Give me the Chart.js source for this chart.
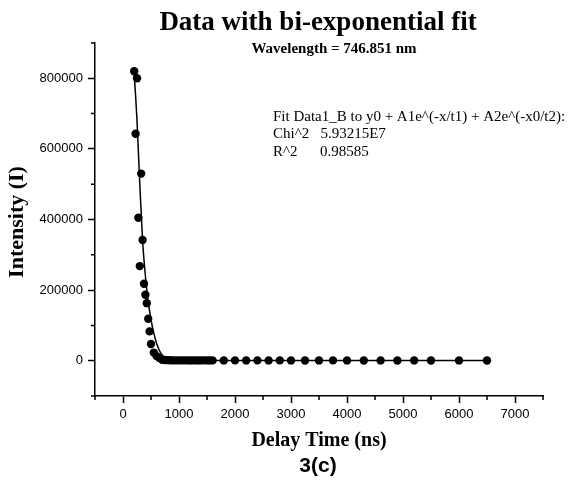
<!DOCTYPE html>
<html>
<head>
<meta charset="utf-8">
<script src="https://cdn.jsdelivr.net/npm/chart.js@4/dist/chart.umd.min.js"></script>
<style>
  html, body { margin: 0; padding: 0; background: #fff; }
  #wrap { width: 571px; height: 480px; position: relative; }
</style>
</head>
<body>
<div id="wrap"><canvas id="c" width="571" height="480"></canvas></div>
<script>
// ---- data ----
const DATA_X = [200,225,250,275,300,325,350,375,400,425,450,475,500,550,600,650,700,
  750,800,850,900,950,1000,1050,1100,1150,1200,1250,1300,1350,1400,1450,1500,1550,1600,
  1800,2000,2200,2400,2600,2800,3000,3250,3500,3750,4000,4300,4600,4900,5200,5500,6000,6500];
const DATA_Y = [820000,643000,800000,405000,268000,530000,342000,218000,187000,163000,119000,83000,47500,23000,13000,7700,2800,
  2000,1500,1200,1000,1000,900,1000,900,1000,800,900,1000,800,900,1000,900,800,900,
  800,900,800,900,800,900,800,700,800,900,800,700,800,700,800,700,800,700];
const FIT_X = [200,250,300,350,400,450,500,550,600,650,700,750,800,900,1000,1200,1600,2000,3000,4000,5000,6000,6500];
const FIT_Y = [815000,680000,500000,340000,240000,168000,116000,78000,49000,29000,16000,8000,4000,1800,1200,1000,900,850,800,800,800,800,800];
const X_TICKS = [0,1000,2000,3000,4000,5000,6000,7000];
const X_MINOR = [-500,500,1500,2500,3500,4500,5500,6500,7500];
const Y_TICKS = [0,200000,400000,600000,800000];
const Y_MINOR = [-100000,100000,300000,500000,700000,900000];
const TITLE = 'Data with bi-exponential fit';
const SUBTITLE = 'Wavelength = 746.851 nm';
const FIT_TEXT = ['Fit Data1_B to y0 + A1e^(-x/t1) + A2e^(-x0/t2):', 'Chi^2\u00a0\u00a0\u00a05.93215E7', 'R^2\u00a0\u00a0\u00a0\u00a0\u00a0\u00a00.98585'];
const X_TITLE = 'Delay Time (ns)';
const Y_TITLE = 'Intensity (I)';
const FIG_LABEL = '3(c)';

const points = DATA_X.map((x, i) => ({x, y: DATA_Y[i]}));
const fit = FIT_X.map((x, i) => ({x, y: FIT_Y[i]}));

const SERIF = '"Liberation Serif", "Times New Roman", serif';
const SANS = '"Liberation Sans", Arial, sans-serif';

const decor = {
  id: 'decor',
  afterDraw(chart) {
    const ctx = chart.ctx;
    const xs = chart.scales.x, ys = chart.scales.y;
    ctx.save();
    // minor ticks
    ctx.strokeStyle = '#000';
    ctx.lineWidth = 1.5;
    ctx.beginPath();
    X_MINOR.forEach(v => {
      const px = xs.getPixelForValue(v);
      ctx.moveTo(px, xs.top); ctx.lineTo(px, xs.top + 4);
    });
    Y_MINOR.forEach(v => {
      const py = ys.getPixelForValue(v);
      ctx.moveTo(ys.right, py); ctx.lineTo(ys.right - 4, py);
    });
    ctx.stroke();
    ctx.fillStyle = '#000';
    ctx.textAlign = 'center';
    ctx.textBaseline = 'middle';
    ctx.font = 'bold 27px ' + SERIF;
    ctx.fillText(TITLE, 318, 23);
    ctx.font = 'bold 15px ' + SERIF;
    ctx.fillText(SUBTITLE, 334, 49);
    ctx.font = 'bold 20px ' + SERIF;
    ctx.fillText(X_TITLE, 319, 441);
    ctx.font = 'bold 21px ' + SANS;
    ctx.fillText(FIG_LABEL, 318, 466);
    ctx.save();
    ctx.translate(17, 222);
    ctx.rotate(-Math.PI / 2);
    ctx.font = 'bold 22px ' + SERIF;
    ctx.fillText(Y_TITLE, 0, 0);
    ctx.restore();
    ctx.textAlign = 'left';
    ctx.font = '15px ' + SERIF;
    FIT_TEXT.forEach((t, i) => ctx.fillText(t, 273, 117 + i * 17.5));
    ctx.restore();
  }
};

new Chart(document.getElementById('c'), {
  type: 'scatter',
  data: {
    datasets: [
      { label: 'fit', data: fit, showLine: true, borderColor: '#000', borderWidth: 1.5,
        pointRadius: 0, cubicInterpolationMode: 'monotone', fill: false, order: 2 },
      { label: 'data', data: points, showLine: false, pointRadius: 4.2,
        pointBackgroundColor: '#000', pointBorderColor: '#000', pointBorderWidth: 0, order: 1 }
    ]
  },
  options: {
    responsive: false,
    animation: false,
    devicePixelRatio: 1,
    layout: { padding: { top: 43, right: 28, left: 0, bottom: 0 } },
    plugins: { legend: { display: false }, tooltip: { enabled: false }, title: { display: false } },
    scales: {
      x: {
        type: 'linear', min: -500, max: 7500,
        afterBuildTicks: s => { s.ticks = X_TICKS.map(v => ({value: v})); },
        afterFit: s => { s.height = 84; },
        grid: { drawOnChartArea: false, drawTicks: true, tickLength: 7, color: '#000', tickWidth: 1.5 },
        border: { display: true, color: '#000', width: 1.5 },
        ticks: { color: '#000', font: { family: SANS, size: 13 }, padding: 4, maxRotation: 0,
                 callback: v => String(v) }
      },
      y: {
        type: 'linear', min: -100000, max: 900000,
        afterBuildTicks: s => { s.ticks = Y_TICKS.map(v => ({value: v})); },
        afterFit: s => { s.width = 95; },
        grid: { drawOnChartArea: false, drawTicks: true, tickLength: 7, color: '#000', tickWidth: 1.5 },
        border: { display: true, color: '#000', width: 1.5 },
        ticks: { color: '#000', font: { family: SANS, size: 13 }, padding: 5,
                 callback: v => String(v) }
      }
    }
  },
  plugins: [decor]
});
</script>
</body>
</html>
